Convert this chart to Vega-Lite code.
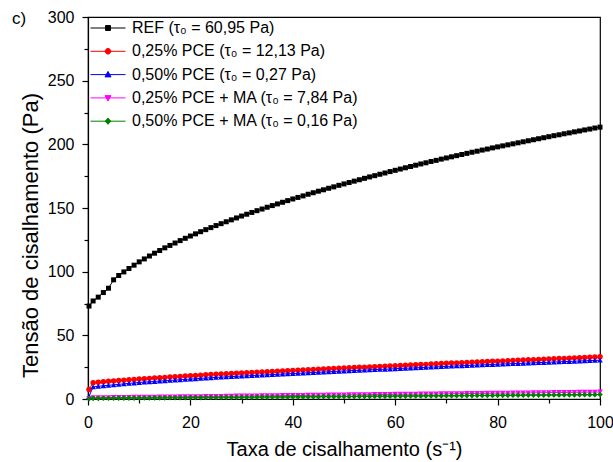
{
"$schema": "https://vega.github.io/schema/vega-lite/v6.json",
"width": 512, "height": 382,
"autosize": {"type": "none"},
"padding": {"left": 88, "top": 17, "right": 13, "bottom": 63},
"background": "white",
"config": {"font": "Liberation Sans", "view": {"stroke": "black", "strokeWidth": 1.2}},
"title": {"text": "c)", "anchor": "start", "frame": "group", "orient": "top", "offset": -26, "dx": -76, "dy": 6, "baseline": "alphabetic", "fontSize": 17, "fontWeight": "normal", "font": "Liberation Sans", "color": "black"},
"data": {"values": [
{"s":"a","x":0.2,"y":73},{"s":"a","x":1,"y":77},{"s":"a","x":2,"y":80},{"s":"a","x":3,"y":83.6},{"s":"a","x":4,"y":87},{"s":"a","x":5,"y":93.6},{"s":"a","x":6,"y":97},{"s":"a","x":7,"y":99.8},{"s":"a","x":8,"y":102.5},{"s":"a","x":9,"y":105.1},{"s":"a","x":10,"y":107.7},
{"s":"a","x":11,"y":110},{"s":"a","x":12,"y":112.3},{"s":"a","x":13,"y":114.5},{"s":"a","x":14,"y":116.6},{"s":"a","x":15,"y":118.7},{"s":"a","x":16,"y":120.6},{"s":"a","x":17,"y":122.5},{"s":"a","x":18,"y":124.4},{"s":"a","x":19,"y":126.2},{"s":"a","x":20,"y":128},
{"s":"a","x":21,"y":129.7},{"s":"a","x":22,"y":131.4},{"s":"a","x":23,"y":133},{"s":"a","x":24,"y":134.6},{"s":"a","x":25,"y":136.2},{"s":"a","x":26,"y":137.7},{"s":"a","x":27,"y":139.2},{"s":"a","x":28,"y":140.7},{"s":"a","x":29,"y":142.2},{"s":"a","x":30,"y":143.7},
{"s":"a","x":31,"y":145.1},{"s":"a","x":32,"y":146.5},{"s":"a","x":33,"y":147.9},{"s":"a","x":34,"y":149.2},{"s":"a","x":35,"y":150.6},{"s":"a","x":36,"y":151.9},{"s":"a","x":37,"y":153.2},{"s":"a","x":38,"y":154.5},{"s":"a","x":39,"y":155.8},{"s":"a","x":40,"y":157.1},
{"s":"a","x":41,"y":158.3},{"s":"a","x":42,"y":159.5},{"s":"a","x":43,"y":160.8},{"s":"a","x":44,"y":162},{"s":"a","x":45,"y":163.2},{"s":"a","x":46,"y":164.3},{"s":"a","x":47,"y":165.5},{"s":"a","x":48,"y":166.6},{"s":"a","x":49,"y":167.8},{"s":"a","x":50,"y":168.9},
{"s":"a","x":51,"y":170},{"s":"a","x":52,"y":171.1},{"s":"a","x":53,"y":172.2},{"s":"a","x":54,"y":173.3},{"s":"a","x":55,"y":174.4},{"s":"a","x":56,"y":175.4},{"s":"a","x":57,"y":176.5},{"s":"a","x":58,"y":177.5},{"s":"a","x":59,"y":178.6},{"s":"a","x":60,"y":179.6},
{"s":"a","x":61,"y":180.6},{"s":"a","x":62,"y":181.6},{"s":"a","x":63,"y":182.6},{"s":"a","x":64,"y":183.6},{"s":"a","x":65,"y":184.6},{"s":"a","x":66,"y":185.5},{"s":"a","x":67,"y":186.5},{"s":"a","x":68,"y":187.4},{"s":"a","x":69,"y":188.4},{"s":"a","x":70,"y":189.3},
{"s":"a","x":71,"y":190.2},{"s":"a","x":72,"y":191.1},{"s":"a","x":73,"y":192},{"s":"a","x":74,"y":192.9},{"s":"a","x":75,"y":193.8},{"s":"a","x":76,"y":194.6},{"s":"a","x":77,"y":195.5},{"s":"a","x":78,"y":196.3},{"s":"a","x":79,"y":197.2},{"s":"a","x":80,"y":198},
{"s":"a","x":81,"y":198.8},{"s":"a","x":82,"y":199.6},{"s":"a","x":83,"y":200.4},{"s":"a","x":84,"y":201.2},{"s":"a","x":85,"y":202},{"s":"a","x":86,"y":202.8},{"s":"a","x":87,"y":203.6},{"s":"a","x":88,"y":204.4},{"s":"a","x":89,"y":205.2},{"s":"a","x":90,"y":206},
{"s":"a","x":91,"y":206.8},{"s":"a","x":92,"y":207.5},{"s":"a","x":93,"y":208.3},{"s":"a","x":94,"y":209},{"s":"a","x":95,"y":209.8},{"s":"a","x":96,"y":210.5},{"s":"a","x":97,"y":211.3},{"s":"a","x":98,"y":212},{"s":"a","x":99,"y":212.8},{"s":"a","x":100,"y":213.5},
{"s":"b","x":0.2,"y":7.5},{"s":"b","x":1,"y":12.8},{"s":"b","x":2,"y":13.2},{"s":"b","x":3,"y":13.6},{"s":"b","x":4,"y":13.9},{"s":"b","x":5,"y":14.2},{"s":"b","x":6,"y":14.5},{"s":"b","x":7,"y":14.8},{"s":"b","x":8,"y":15.1},{"s":"b","x":9,"y":15.4},{"s":"b","x":10,"y":15.7},
{"s":"b","x":11,"y":15.95},{"s":"b","x":12,"y":16.2},{"s":"b","x":13,"y":16.45},{"s":"b","x":14,"y":16.7},{"s":"b","x":15,"y":16.95},{"s":"b","x":16,"y":17.2},{"s":"b","x":17,"y":17.45},{"s":"b","x":18,"y":17.7},{"s":"b","x":19,"y":18},{"s":"b","x":20,"y":18.2},
{"s":"b","x":21,"y":18.5},{"s":"b","x":22,"y":18.7},{"s":"b","x":23,"y":19},{"s":"b","x":24,"y":19.2},{"s":"b","x":25,"y":19.5},{"s":"b","x":26,"y":19.7},{"s":"b","x":27,"y":19.9},{"s":"b","x":28,"y":20.1},{"s":"b","x":29,"y":20.3},{"s":"b","x":30,"y":20.5},
{"s":"b","x":31,"y":20.7},{"s":"b","x":32,"y":20.9},{"s":"b","x":33,"y":21.1},{"s":"b","x":34,"y":21.2},{"s":"b","x":35,"y":21.4},{"s":"b","x":36,"y":21.6},{"s":"b","x":37,"y":21.8},{"s":"b","x":38,"y":22},{"s":"b","x":39,"y":22.2},{"s":"b","x":40,"y":22.4},
{"s":"b","x":41,"y":22.6},{"s":"b","x":42,"y":22.8},{"s":"b","x":43,"y":23},{"s":"b","x":44,"y":23.2},{"s":"b","x":45,"y":23.4},{"s":"b","x":46,"y":23.6},{"s":"b","x":47,"y":23.7},{"s":"b","x":48,"y":23.9},{"s":"b","x":49,"y":24.1},{"s":"b","x":50,"y":24.3},
{"s":"b","x":51,"y":24.5},{"s":"b","x":52,"y":24.7},{"s":"b","x":53,"y":24.9},{"s":"b","x":54,"y":25},{"s":"b","x":55,"y":25.2},{"s":"b","x":56,"y":25.4},{"s":"b","x":57,"y":25.6},{"s":"b","x":58,"y":25.8},{"s":"b","x":59,"y":26},{"s":"b","x":60,"y":26.1},
{"s":"b","x":61,"y":26.3},{"s":"b","x":62,"y":26.5},{"s":"b","x":63,"y":26.7},{"s":"b","x":64,"y":26.9},{"s":"b","x":65,"y":27.1},{"s":"b","x":66,"y":27.2},{"s":"b","x":67,"y":27.4},{"s":"b","x":68,"y":27.6},{"s":"b","x":69,"y":27.8},{"s":"b","x":70,"y":28},
{"s":"b","x":71,"y":28.2},{"s":"b","x":72,"y":28.3},{"s":"b","x":73,"y":28.5},{"s":"b","x":74,"y":28.7},{"s":"b","x":75,"y":28.9},{"s":"b","x":76,"y":29.1},{"s":"b","x":77,"y":29.2},{"s":"b","x":78,"y":29.4},{"s":"b","x":79,"y":29.6},{"s":"b","x":80,"y":29.7},
{"s":"b","x":81,"y":29.9},{"s":"b","x":82,"y":30.1},{"s":"b","x":83,"y":30.2},{"s":"b","x":84,"y":30.4},{"s":"b","x":85,"y":30.6},{"s":"b","x":86,"y":30.8},{"s":"b","x":87,"y":30.9},{"s":"b","x":88,"y":31.1},{"s":"b","x":89,"y":31.3},{"s":"b","x":90,"y":31.4},
{"s":"b","x":91,"y":31.6},{"s":"b","x":92,"y":31.8},{"s":"b","x":93,"y":31.9},{"s":"b","x":94,"y":32.1},{"s":"b","x":95,"y":32.3},{"s":"b","x":96,"y":32.4},{"s":"b","x":97,"y":32.6},{"s":"b","x":98,"y":32.8},{"s":"b","x":99,"y":32.9},{"s":"b","x":100,"y":33.1},
{"s":"c","x":0.2,"y":2},{"s":"c","x":1,"y":9.5},{"s":"c","x":2,"y":10},{"s":"c","x":3,"y":10.4},{"s":"c","x":4,"y":10.8},{"s":"c","x":5,"y":11.1},{"s":"c","x":6,"y":11.5},{"s":"c","x":7,"y":11.9},{"s":"c","x":8,"y":12.3},{"s":"c","x":9,"y":12.6},{"s":"c","x":10,"y":13},
{"s":"c","x":11,"y":13.3},{"s":"c","x":12,"y":13.5},{"s":"c","x":13,"y":13.8},{"s":"c","x":14,"y":14.1},{"s":"c","x":15,"y":14.3},{"s":"c","x":16,"y":14.6},{"s":"c","x":17,"y":14.9},{"s":"c","x":18,"y":15.1},{"s":"c","x":19,"y":15.4},{"s":"c","x":20,"y":15.7},
{"s":"c","x":21,"y":15.9},{"s":"c","x":22,"y":16.2},{"s":"c","x":23,"y":16.5},{"s":"c","x":24,"y":16.7},{"s":"c","x":25,"y":17},{"s":"c","x":26,"y":17.2},{"s":"c","x":27,"y":17.4},{"s":"c","x":28,"y":17.6},{"s":"c","x":29,"y":17.8},{"s":"c","x":30,"y":18},
{"s":"c","x":31,"y":18.2},{"s":"c","x":32,"y":18.4},{"s":"c","x":33,"y":18.6},{"s":"c","x":34,"y":18.8},{"s":"c","x":35,"y":19},{"s":"c","x":36,"y":19.2},{"s":"c","x":37,"y":19.4},{"s":"c","x":38,"y":19.6},{"s":"c","x":39,"y":19.8},{"s":"c","x":40,"y":20},
{"s":"c","x":41,"y":20.2},{"s":"c","x":42,"y":20.4},{"s":"c","x":43,"y":20.6},{"s":"c","x":44,"y":20.8},{"s":"c","x":45,"y":21},{"s":"c","x":46,"y":21.2},{"s":"c","x":47,"y":21.4},{"s":"c","x":48,"y":21.6},{"s":"c","x":49,"y":21.8},{"s":"c","x":50,"y":22},
{"s":"c","x":51,"y":22.2},{"s":"c","x":52,"y":22.4},{"s":"c","x":53,"y":22.5},{"s":"c","x":54,"y":22.7},{"s":"c","x":55,"y":22.9},{"s":"c","x":56,"y":23.1},{"s":"c","x":57,"y":23.3},{"s":"c","x":58,"y":23.4},{"s":"c","x":59,"y":23.6},{"s":"c","x":60,"y":23.8},
{"s":"c","x":61,"y":24},{"s":"c","x":62,"y":24.2},{"s":"c","x":63,"y":24.3},{"s":"c","x":64,"y":24.5},{"s":"c","x":65,"y":24.7},{"s":"c","x":66,"y":24.9},{"s":"c","x":67,"y":25.1},{"s":"c","x":68,"y":25.2},{"s":"c","x":69,"y":25.4},{"s":"c","x":70,"y":25.6},
{"s":"c","x":71,"y":25.8},{"s":"c","x":72,"y":26},{"s":"c","x":73,"y":26.1},{"s":"c","x":74,"y":26.3},{"s":"c","x":75,"y":26.5},{"s":"c","x":76,"y":26.7},{"s":"c","x":77,"y":26.8},{"s":"c","x":78,"y":27},{"s":"c","x":79,"y":27.1},{"s":"c","x":80,"y":27.3},
{"s":"c","x":81,"y":27.5},{"s":"c","x":82,"y":27.6},{"s":"c","x":83,"y":27.8},{"s":"c","x":84,"y":27.9},{"s":"c","x":85,"y":28.1},{"s":"c","x":86,"y":28.3},{"s":"c","x":87,"y":28.4},{"s":"c","x":88,"y":28.6},{"s":"c","x":89,"y":28.7},{"s":"c","x":90,"y":28.9},
{"s":"c","x":91,"y":29.1},{"s":"c","x":92,"y":29.2},{"s":"c","x":93,"y":29.4},{"s":"c","x":94,"y":29.5},{"s":"c","x":95,"y":29.7},{"s":"c","x":96,"y":29.9},{"s":"c","x":97,"y":30},{"s":"c","x":98,"y":30.2},{"s":"c","x":99,"y":30.3},{"s":"c","x":100,"y":30.5},
{"s":"d","x":0.2,"y":0.3},{"s":"d","x":1,"y":1},{"s":"d","x":2,"y":1},{"s":"d","x":3,"y":1.1},{"s":"d","x":4,"y":1.1},{"s":"d","x":5,"y":1.2},{"s":"d","x":6,"y":1.2},{"s":"d","x":7,"y":1.3},{"s":"d","x":8,"y":1.3},{"s":"d","x":9,"y":1.4},{"s":"d","x":10,"y":1.4},
{"s":"d","x":11,"y":1.5},{"s":"d","x":12,"y":1.5},{"s":"d","x":13,"y":1.5},{"s":"d","x":14,"y":1.6},{"s":"d","x":15,"y":1.6},{"s":"d","x":16,"y":1.7},{"s":"d","x":17,"y":1.7},{"s":"d","x":18,"y":1.8},{"s":"d","x":19,"y":1.8},{"s":"d","x":20,"y":1.9},
{"s":"d","x":21,"y":1.9},{"s":"d","x":22,"y":1.9},{"s":"d","x":23,"y":2},{"s":"d","x":24,"y":2},{"s":"d","x":25,"y":2.1},{"s":"d","x":26,"y":2.1},{"s":"d","x":27,"y":2.2},{"s":"d","x":28,"y":2.2},{"s":"d","x":29,"y":2.3},{"s":"d","x":30,"y":2.3},
{"s":"d","x":31,"y":2.4},{"s":"d","x":32,"y":2.4},{"s":"d","x":33,"y":2.4},{"s":"d","x":34,"y":2.5},{"s":"d","x":35,"y":2.5},{"s":"d","x":36,"y":2.6},{"s":"d","x":37,"y":2.6},{"s":"d","x":38,"y":2.7},{"s":"d","x":39,"y":2.7},{"s":"d","x":40,"y":2.8},
{"s":"d","x":41,"y":2.8},{"s":"d","x":42,"y":2.8},{"s":"d","x":43,"y":2.9},{"s":"d","x":44,"y":2.9},{"s":"d","x":45,"y":3},{"s":"d","x":46,"y":3},{"s":"d","x":47,"y":3.1},{"s":"d","x":48,"y":3.1},{"s":"d","x":49,"y":3.2},{"s":"d","x":50,"y":3.2},
{"s":"d","x":51,"y":3.3},{"s":"d","x":52,"y":3.3},{"s":"d","x":53,"y":3.3},{"s":"d","x":54,"y":3.4},{"s":"d","x":55,"y":3.4},{"s":"d","x":56,"y":3.5},{"s":"d","x":57,"y":3.5},{"s":"d","x":58,"y":3.6},{"s":"d","x":59,"y":3.6},{"s":"d","x":60,"y":3.7},
{"s":"d","x":61,"y":3.7},{"s":"d","x":62,"y":3.7},{"s":"d","x":63,"y":3.8},{"s":"d","x":64,"y":3.8},{"s":"d","x":65,"y":3.9},{"s":"d","x":66,"y":3.9},{"s":"d","x":67,"y":4},{"s":"d","x":68,"y":4},{"s":"d","x":69,"y":4.1},{"s":"d","x":70,"y":4.1},
{"s":"d","x":71,"y":4.2},{"s":"d","x":72,"y":4.2},{"s":"d","x":73,"y":4.2},{"s":"d","x":74,"y":4.3},{"s":"d","x":75,"y":4.3},{"s":"d","x":76,"y":4.4},{"s":"d","x":77,"y":4.4},{"s":"d","x":78,"y":4.5},{"s":"d","x":79,"y":4.5},{"s":"d","x":80,"y":4.6},
{"s":"d","x":81,"y":4.6},{"s":"d","x":82,"y":4.6},{"s":"d","x":83,"y":4.7},{"s":"d","x":84,"y":4.7},{"s":"d","x":85,"y":4.8},{"s":"d","x":86,"y":4.8},{"s":"d","x":87,"y":4.9},{"s":"d","x":88,"y":4.9},{"s":"d","x":89,"y":5},{"s":"d","x":90,"y":5},
{"s":"d","x":91,"y":5.1},{"s":"d","x":92,"y":5.1},{"s":"d","x":93,"y":5.1},{"s":"d","x":94,"y":5.2},{"s":"d","x":95,"y":5.2},{"s":"d","x":96,"y":5.3},{"s":"d","x":97,"y":5.3},{"s":"d","x":98,"y":5.4},{"s":"d","x":99,"y":5.4},{"s":"d","x":100,"y":5.5},
{"s":"e","x":0.2,"y":0.2},{"s":"e","x":1,"y":0.5},{"s":"e","x":2,"y":0.5},{"s":"e","x":3,"y":0.6},{"s":"e","x":4,"y":0.6},{"s":"e","x":5,"y":0.6},{"s":"e","x":6,"y":0.7},{"s":"e","x":7,"y":0.7},{"s":"e","x":8,"y":0.7},{"s":"e","x":9,"y":0.7},{"s":"e","x":10,"y":0.8},
{"s":"e","x":11,"y":0.8},{"s":"e","x":12,"y":0.8},{"s":"e","x":13,"y":0.9},{"s":"e","x":14,"y":0.9},{"s":"e","x":15,"y":0.9},{"s":"e","x":16,"y":1},{"s":"e","x":17,"y":1},{"s":"e","x":18,"y":1},{"s":"e","x":19,"y":1},{"s":"e","x":20,"y":1.1},
{"s":"e","x":21,"y":1.1},{"s":"e","x":22,"y":1.1},{"s":"e","x":23,"y":1.2},{"s":"e","x":24,"y":1.2},{"s":"e","x":25,"y":1.2},{"s":"e","x":26,"y":1.3},{"s":"e","x":27,"y":1.3},{"s":"e","x":28,"y":1.3},{"s":"e","x":29,"y":1.3},{"s":"e","x":30,"y":1.4},
{"s":"e","x":31,"y":1.4},{"s":"e","x":32,"y":1.4},{"s":"e","x":33,"y":1.5},{"s":"e","x":34,"y":1.5},{"s":"e","x":35,"y":1.5},{"s":"e","x":36,"y":1.6},{"s":"e","x":37,"y":1.6},{"s":"e","x":38,"y":1.6},{"s":"e","x":39,"y":1.6},{"s":"e","x":40,"y":1.7},
{"s":"e","x":41,"y":1.7},{"s":"e","x":42,"y":1.7},{"s":"e","x":43,"y":1.8},{"s":"e","x":44,"y":1.8},{"s":"e","x":45,"y":1.8},{"s":"e","x":46,"y":1.9},{"s":"e","x":47,"y":1.9},{"s":"e","x":48,"y":1.9},{"s":"e","x":49,"y":1.9},{"s":"e","x":50,"y":2},
{"s":"e","x":51,"y":2},{"s":"e","x":52,"y":2},{"s":"e","x":53,"y":2.1},{"s":"e","x":54,"y":2.1},{"s":"e","x":55,"y":2.1},{"s":"e","x":56,"y":2.2},{"s":"e","x":57,"y":2.2},{"s":"e","x":58,"y":2.2},{"s":"e","x":59,"y":2.2},{"s":"e","x":60,"y":2.3},
{"s":"e","x":61,"y":2.3},{"s":"e","x":62,"y":2.3},{"s":"e","x":63,"y":2.4},{"s":"e","x":64,"y":2.4},{"s":"e","x":65,"y":2.4},{"s":"e","x":66,"y":2.5},{"s":"e","x":67,"y":2.5},{"s":"e","x":68,"y":2.5},{"s":"e","x":69,"y":2.5},{"s":"e","x":70,"y":2.6},
{"s":"e","x":71,"y":2.6},{"s":"e","x":72,"y":2.6},{"s":"e","x":73,"y":2.7},{"s":"e","x":74,"y":2.7},{"s":"e","x":75,"y":2.7},{"s":"e","x":76,"y":2.8},{"s":"e","x":77,"y":2.8},{"s":"e","x":78,"y":2.8},{"s":"e","x":79,"y":2.8},{"s":"e","x":80,"y":2.9},
{"s":"e","x":81,"y":2.9},{"s":"e","x":82,"y":2.9},{"s":"e","x":83,"y":3},{"s":"e","x":84,"y":3},{"s":"e","x":85,"y":3},{"s":"e","x":86,"y":3.1},{"s":"e","x":87,"y":3.1},{"s":"e","x":88,"y":3.1},{"s":"e","x":89,"y":3.1},{"s":"e","x":90,"y":3.2},
{"s":"e","x":91,"y":3.2},{"s":"e","x":92,"y":3.2},{"s":"e","x":93,"y":3.3},{"s":"e","x":94,"y":3.3},{"s":"e","x":95,"y":3.3},{"s":"e","x":96,"y":3.4},{"s":"e","x":97,"y":3.4},{"s":"e","x":98,"y":3.4},{"s":"e","x":99,"y":3.4},{"s":"e","x":100,"y":3.5}
]},
"encoding": {
  "x": {"field": "x", "type": "quantitative",
        "scale": {"domain": [0, 100], "nice": false, "zero": false},
        "axis": {"title": "Taxa de cisalhamento (s⁻¹)", "values": [0,10,20,30,40,50,60,70,80,90,100],
                 "labelExpr": "datum.value % 20 === 0 ? datum.label : ''",
                 "tickSize": {"condition": {"test": "datum.value % 20 === 0", "value": 6}, "value": 4},
                 "grid": false, "domainColor": "black", "domainWidth": 1.2, "tickColor": "black", "tickWidth": 1.2,
                 "labelFontSize": 16, "labelColor": "black", "labelPadding": 9, "labelFlush": false,
                 "titleFontSize": 20, "titleFontWeight": "normal", "titleColor": "black", "titlePadding": 9}},
  "y": {"field": "y", "type": "quantitative",
        "scale": {"domain": [0, 300], "nice": false},
        "axis": {"title": "Tensão de cisalhamento (Pa)", "values": [0,25,50,75,100,125,150,175,200,225,250,275,300],
                 "labelExpr": "datum.value % 50 === 0 ? datum.label : ''",
                 "tickSize": {"condition": {"test": "datum.value % 50 === 0", "value": 6}, "value": 4},
                 "grid": false, "domainColor": "black", "domainWidth": 1.2, "tickColor": "black", "tickWidth": 1.2,
                 "labelFontSize": 16, "labelColor": "black", "labelPadding": 8, "labelFlush": false,
                 "titleFontSize": 22, "titleFontWeight": "normal", "titleColor": "black", "titlePadding": 5, "titleY": 218}},
  "color": {"field": "s", "type": "nominal",
            "scale": {"domain": ["a","b","c","d","e"], "range": ["#000000","#FF0000","#0000FF","#FF00FF","#008000"]},
            "legend": {"title": null, "orient": "none", "legendX": 2, "legendY": 3, "padding": 0,
                       "symbolSize": 1225, "symbolStrokeWidth": 1, "clipHeight": 16,
                       "labelFontSize": 16, "labelColor": "black", "labelLimit": 0,
                       "labelOffset": 6, "rowPadding": 7.3, "symbolOpacity": 1,
                       "labelExpr": "datum.label == 'a' ? 'REF (τ₀ = 60,95 Pa)' : datum.label == 'b' ? '0,25% PCE (τ₀ = 12,13 Pa)' : datum.label == 'c' ? '0,50% PCE (τ₀ = 0,27 Pa)' : datum.label == 'd' ? '0,25% PCE + MA (τ₀ = 7,84 Pa)' : '0,50% PCE + MA (τ₀ = 0,16 Pa)'",
                       "encode": {"symbols": {"update": {
                          "shape": {"signal": "datum.value == 'a' ? 'M-1,0H1M-0.14,-0.14H0.14V0.14H-0.14Z' : datum.value == 'b' ? 'M-1,0H1M-0.16,0A0.16,0.16 0 1,0 0.16,0A0.16,0.16 0 1,0 -0.16,0Z' : datum.value == 'c' ? 'M-1,0H1M0,-0.18L0.17,0.13H-0.17Z' : datum.value == 'd' ? 'M-1,0H1M0,0.18L0.17,-0.13H-0.17Z' : 'M-1,0H1M0,-0.18L0.16,0L0,0.18L-0.16,0Z'"},
                          "fill": {"signal": "scale('color', datum.value)"},
                          "stroke": {"signal": "scale('color', datum.value)"},
                          "strokeWidth": {"value": 1},
                          "opacity": {"value": 1}}}}}}
},
"layer": [
  {"mark": {"type": "line", "strokeWidth": 1, "clip": true},
   "encoding": {"detail": {"field": "s"}}},
  {"transform": [{"filter": "datum.s == 'a'"}],
   "mark": {"type": "point", "shape": "square", "filled": true, "opacity": 1, "size": 25}},
  {"transform": [{"filter": "datum.s == 'b'"}],
   "mark": {"type": "point", "shape": "circle", "filled": true, "opacity": 1, "size": 30}},
  {"transform": [{"filter": "datum.s == 'c'"}],
   "mark": {"type": "point", "shape": "triangle-up", "filled": true, "opacity": 1, "size": 32}},
  {"transform": [{"filter": "datum.s == 'd'"}],
   "mark": {"type": "point", "shape": "triangle-down", "filled": true, "opacity": 1, "size": 32}},
  {"transform": [{"filter": "datum.s == 'e'"}],
   "mark": {"type": "point", "shape": "diamond", "filled": true, "opacity": 1, "size": 32}}
]
}
